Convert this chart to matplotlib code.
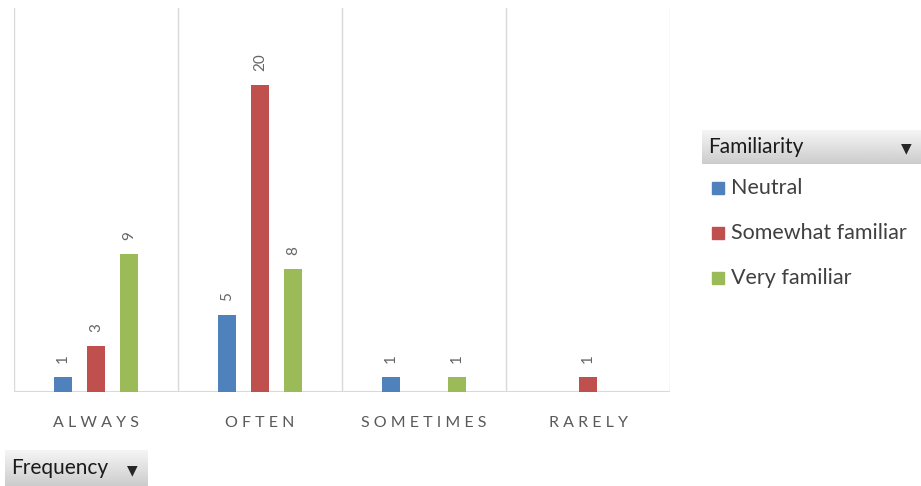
import numpy as np
import matplotlib.pyplot as plt
from matplotlib.patches import Rectangle

plt.rcParams['font.family'] = ['Lato', 'DejaVu Sans']

categories = ["ALWAYS", "OFTEN", "SOMETIMES", "RARELY"]
series = ["Neutral", "Somewhat familiar", "Very familiar"]
neutral = [1, 5, 1, None]
somewhat = [3, 20, None, 1]
very = [9, 8, 1, None]
colors = ["#4f81bd", "#c0504d", "#9bbb59"]

W, H = 921, 486
fig = plt.figure(figsize=(W / 100, H / 100), dpi=100)


def fig_box(x0, y0, x1, y1):
    # pixel box (top-left origin) -> figure fraction rect
    return [x0 / W, 1 - y1 / H, (x1 - x0) / W, (y1 - y0) / H]


ax = fig.add_axes(fig_box(14, 8, 670, 392))
x = np.arange(len(categories))
width = 0.11
offsets = [-0.2, 0.0, 0.2]

for vals, off, col in zip([neutral, somewhat, very], offsets, colors):
    for i, v in enumerate(vals):
        if v is None:
            continue
        ax.bar(x[i] + off, v, width=width, color=col, zorder=3)
        ax.annotate(str(v), (x[i] + off, v), xytext=(0, 10), textcoords="offset points",
                    rotation=90, ha="center", va="bottom", color="#666666", fontsize=11)

ax.set_xlim(-0.5, len(categories) - 0.5)
ax.set_ylim(0, 25)
for b in np.arange(-0.5, len(categories), 1.0):
    ax.axvline(b, color="#d9d9d9", lw=1, zorder=1)
ax.axhline(0, color="#d9d9d9", lw=1.5, zorder=2)
for s in ax.spines.values():
    s.set_visible(False)
ax.set_yticks([])
ax.set_xticks(x)
ax.set_xticklabels([" ".join(c) for c in categories], color="#595959", fontsize=11.5)
ax.tick_params(axis="x", length=0, pad=17)


def button(x0, y0, x1, y1, label, fs):
    bax = fig.add_axes(fig_box(x0, y0, x1, y1))
    grad = np.linspace(0.96, 0.80, 50).reshape(-1, 1)
    bax.imshow(grad, cmap="gray", vmin=0, vmax=1, aspect="auto", extent=[0, 1, 0, 1])
    bax.set_xlim(0, 1)
    bax.set_ylim(0, 1)
    bax.axis("off")
    pad = 6 / (x1 - x0)
    bax.text(pad, 0.5, label, ha="left", va="center", fontsize=fs, color="#1a1a1a")
    bax.text(1 - 15 / (x1 - x0), 0.45, "\u25bc", ha="center", va="center", fontsize=10,
             color="#262626", family="DejaVu Sans")


button(702, 130, 921, 164, "Familiarity", 15)
button(5, 450, 147, 486, "Frequency", 15)

# legend entries
for k, (name, col) in enumerate(zip(series, colors)):
    yc = 188 + 45 * k
    fig.patches.append(Rectangle((712 / W, 1 - (yc + 6) / H), 12 / W, 12 / H,
                                 transform=fig.transFigure, color=col))
    fig.text(731 / W, 1 - yc / H, name, ha="left", va="center", fontsize=15.5, color="#404040")

fig.savefig("out.png", dpi=100)
